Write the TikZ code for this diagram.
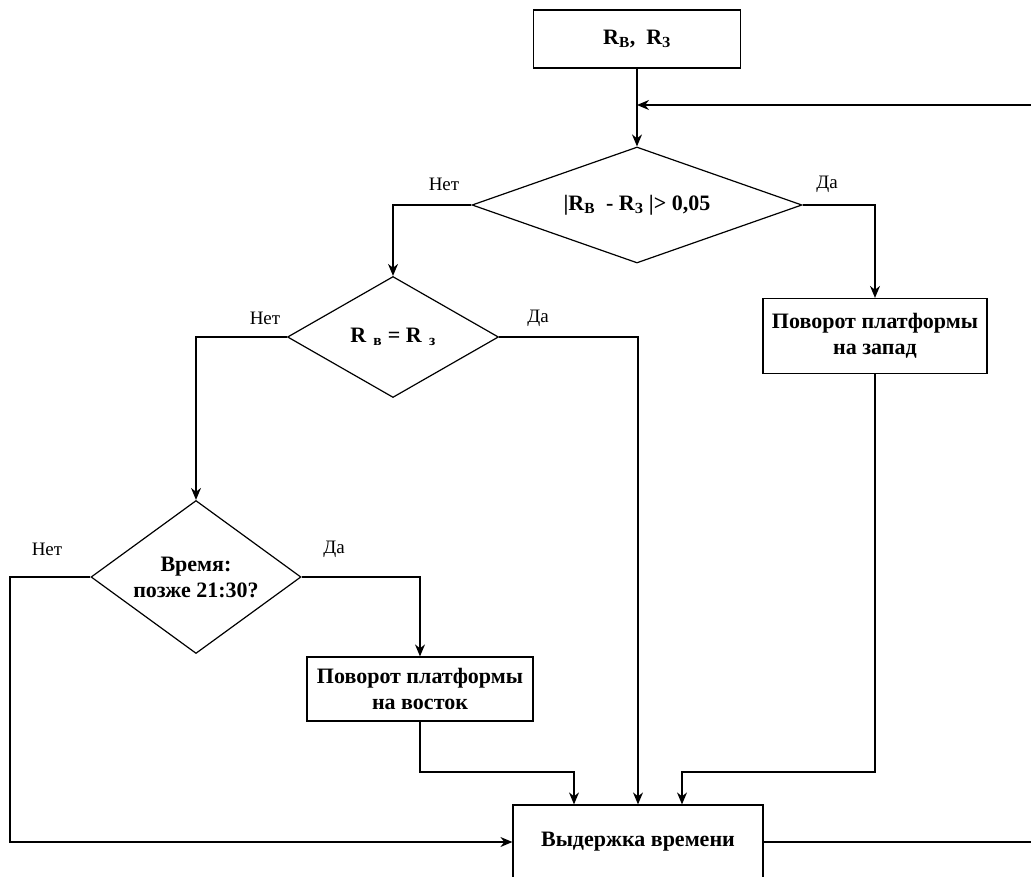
\documentclass[tikz,border=0pt]{standalone}
\usepackage{fontspec}
\setmainfont{Liberation Serif}
\usetikzlibrary{shapes.geometric,arrows.meta,calc}
\begin{document}
\begin{tikzpicture}[x=1pt,y=-1pt, line width=1.2pt,
  arr/.style={-{Stealth[length=12pt,width=10pt]}},
  box/.style={draw, rectangle, font=\bfseries\fontsize{22}{26}\selectfont, align=center, inner sep=0pt},
  dia/.style={draw, diamond, font=\bfseries\fontsize{22}{26}\selectfont, align=center, inner sep=0pt},
  lbl/.style={font=\fontsize{19}{22}\selectfont, inner sep=0pt}]
\useasboundingbox (0,0) rectangle (1031,877);
\clip (0,0) rectangle (1031,877);
% nodes
\node[box, minimum width=207pt, minimum height=58pt] (top) at (637,39) {R\textsubscript{В}, \ R\textsubscript{З}};
\node[dia, shape aspect=2.85, minimum width=330pt, minimum height=116pt] (d1) at (637,205) {|R\textsubscript{В} \ - R\textsubscript{З} |> 0,05};
\node[dia, shape aspect=1.74, minimum width=211pt, minimum height=121pt] (d2) at (393,337) {R\,\,\textsubscript{в} = R\,\,\textsubscript{з}};
\node[dia, shape aspect=1.37, minimum width=210pt, minimum height=153pt] (d3) at (196,577) {Время:\\позже 21:30?};
\node[box, minimum width=224pt, minimum height=75pt] (west) at (875,336) {Поворот платформы\\на запад};
\node[box, minimum width=226pt, minimum height=64pt] (east) at (420,689) {Поворот платформы\\на восток};
\node[box, minimum width=250pt, minimum height=74pt] (delay) at (638,842) {Выдержка времени};
% labels
\node[lbl] (l1n) at (444,184) {Нет};
\node[lbl] (l1y) at (827,184) {Да};
\node[lbl] (l2n) at (265,318) {Нет};
\node[lbl] (l2y) at (538,318) {Да};
\node[lbl] (l3n) at (47,549) {Нет};
\node[lbl] (l3y) at (334,549) {Да};
% coordinates
\coordinate (fbR) at (1031,105);
\coordinate (lx) at (10,577);
\coordinate (j1) at (574,772);
\coordinate (j2) at (682,772);
\coordinate (outR) at (1031,842);
% connectors
\draw[arr] (top) -- (d1);
\draw[arr] (fbR) -- (fbR -| top.south);
\draw[arr] (d1.west) -| (d2.north);
\draw[arr] (d1.east) -| (west.north);
\draw[arr] (d2.west) -| (d3.north);
\draw[arr] (d2.east) -| (delay.north);
\draw[arr] (d3.east) -| (east.north);
\draw[arr] (d3.west) -- (lx) |- (delay.west);
\draw[arr] (east.south) |- (j1) -- (j1 |- delay.north);
\draw[arr] (west.south) |- (j2) -- (j2 |- delay.north);
\draw (delay.east) -- (outR);
\end{tikzpicture}
\end{document}
